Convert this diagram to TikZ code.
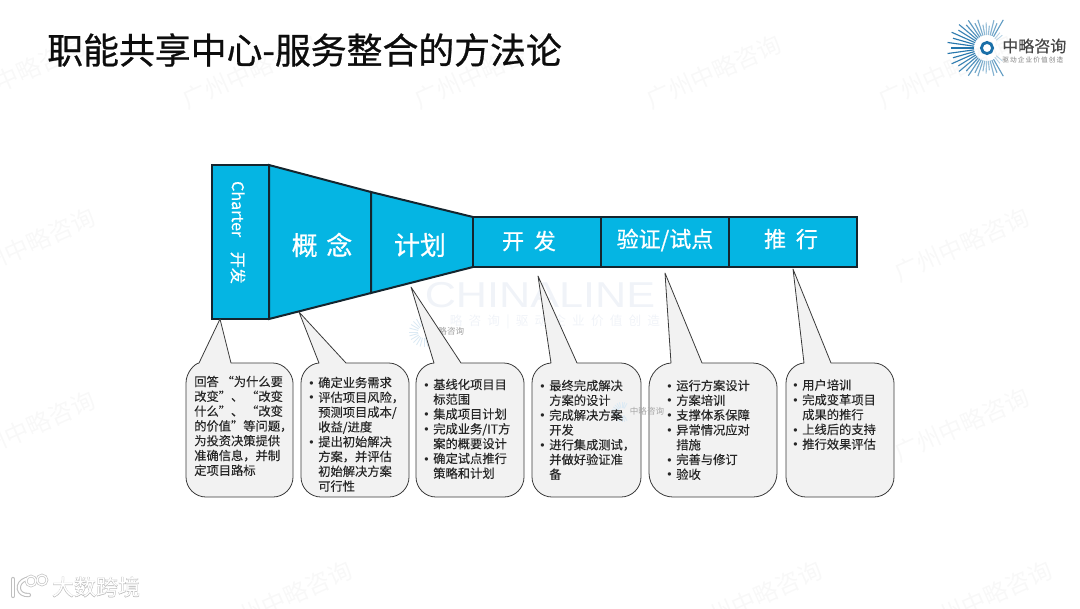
\documentclass[tikz,border=0pt]{standalone}
\usepackage{fontspec}
\setmainfont{Noto Sans CJK SC}
\newfontfamily\cjk{Noto Sans CJK SC}
\newfontfamily\cjkt[FakeBold=0.15]{Noto Sans CJK SC}
\newfontfamily\cjkb[FakeBold=0.7]{Noto Sans CJK SC}
\newfontfamily\cjks[FakeBold=0.3]{Noto Sans CJK SC}
\newfontfamily\cjkh[FakeBold=2.5]{Noto Sans CJK SC}
\newfontfamily\latinw{Liberation Sans}
\definecolor{stagefill}{HTML}{05B5E3}
\definecolor{stageline}{HTML}{14252E}
\definecolor{bubblefill}{HTML}{F2F2F2}
\definecolor{bubbleline}{HTML}{3A3A3A}
\definecolor{bodytext}{HTML}{262626}
\definecolor{wmark}{HTML}{F8F8F8}
\definecolor{wmarkb}{HTML}{F0F3F8}
\definecolor{logoblue}{HTML}{1A6FA8}
\definecolor{logopale}{HTML}{DCEAF4}
\newcommand{\bi}[1]{\makebox[0pt][r]{{\latinw •}\hspace{3.4pt}}#1}
\newcommand{\gp}{\hspace{4.6pt}}
\tikzset{
  stage/.style={fill=stagefill,draw=stageline,line width=1.5pt,line join=miter},
  bubble/.style={fill=bubblefill,draw=bubbleline,line width=0.6pt,line join=round},
  bubbletext/.style={anchor=north west,inner sep=0pt,align=left,text=bodytext,font=\cjkt\fontsize{9.2}{11.1}\selectfont},
  stagelabel/.style={text=white,inner sep=0pt},
  watermark/.style={text=wmark,inner sep=0pt,rotate=24,font=\cjk\fontsize{18}{20}\selectfont},
  smalllogo/.style={inner sep=0pt,font=\cjk\fontsize{6.4}{8}\selectfont},
}
\begin{document}
\begin{tikzpicture}[x=0.75pt,y=-0.75pt]
\useasboundingbox (0,0) rectangle (1080,608);
% watermarks
\foreach \wx/\wy [count=\i] in {18/74,250/72,482/72,714/72,946/72,
  28/245,962/245,28/428,962/425,285/598,755/598,985/598}{
  \node[watermark] (wm\i) at (\wx,\wy) {广州中略咨询};
}
\node[text=wmarkb,inner sep=0pt,xscale=1.2,font=\latinw\fontsize{27}{30}\selectfont] (cl) at (540,295) {CHINALINE};
\node[text=wmarkb,inner sep=0pt,font=\cjk\fontsize{9.5}{11}\selectfont] (cls) at (555,322) {略\gp 咨\gp 询\gp |\gp 驱\gp 动\gp 企\gp 业\gp 价\gp 值\gp 创\gp 造};
\foreach \a in {60,75,...,300}{
  \draw[color=logopale,line width=0.7pt] (424,332)++(\a:6) -- ++(\a:{9});
}
\node[smalllogo,text=black!38] (wl1) at (447,331) {中略咨询};
% title
\node[anchor=west,inner sep=0pt,text=black!95,font=\cjkb\fontsize{26.9}{30}\selectfont] (title) at (47,50) {职能共享中心-服务整合的方法论};
% logo
\foreach \a [count=\k] in {60,68,...,300}{
  \pgfmathsetmacro{\rl}{(mod(\k,2)==0 ? 21 : 25)+15*abs(cos(\a))}
  \pgfmathsetmacro{\mixv}{40+55*abs(cos(\a))}
  \draw[color=logoblue!\mixv!white,line width=0.85pt] (987,48)++(\a:13) -- ++(\a:{\rl-13});
}
\foreach \a [count=\k] in {50,-50,40,-40}{
  \draw[color=logoblue!30!white,line width=0.7pt] (987,48)++(\a:12) -- ++(\a:{8});
}
\draw[logoblue,line width=2.1pt,fill=white] (987,48) circle[radius=5.6];
\node[anchor=west,inner sep=0pt,text=black!72,font=\cjks\fontsize{12}{14}\selectfont] (lg1) at (1002,46) {中略咨询};
\node[anchor=west,inner sep=0pt,text=black!50,font=\cjk\fontsize{5}{6}\selectfont] (lg2) at (1002,60) {驱\,动\,企\,业\,价\,值\,创\,造};
% stages
\draw[stage] (212,165) rectangle (269,319);
\draw[stage] (269,165) -- (371,192) -- (371,293) -- (269,319) -- cycle;
\draw[stage] (371,192) -- (473,217) -- (473,267) -- (371,293) -- cycle;
\draw[stage] (473,217) rectangle (601,267);
\draw[stage] (601,217) rectangle (729,267);
\draw[stage] (729,217) rectangle (857,267);
\node[stagelabel,rotate=-90,font=\cjks\fontsize{12}{14}\selectfont] (charter) at (238,232.5) {Charter\hspace{11pt}开发};
\node[stagelabel,font=\cjkb\fontsize{19.5}{22}\selectfont] (gn) at (322,245) {概\,\,念};
\node[stagelabel,font=\cjkb\fontsize{19.5}{22}\selectfont] (jh) at (420,245) {计划};
\node[stagelabel,font=\cjkb\fontsize{16.5}{20}\selectfont] (kf) at (529,241) {开\ \ 发};
\node[stagelabel,font=\cjkb\fontsize{16.5}{20}\selectfont] (yz) at (665,240) {验证/试点};
\node[stagelabel,font=\cjkb\fontsize{16.5}{20}\selectfont] (tx) at (791,239) {推\ \ 行};
% bubbles: left, right, radius, tip x, tip y, base left, base right
\foreach \l/\r/\c/\tx/\ty/\bl/\br in {
  186/293/20/220/319/199/231,
  301/409/20/299/312/319/346,
  416/524/20/411/287/434/461,
  532/641/20/538/276/551/577,
  649/777/24/665/273/671/702,
  786/894/20/793/269/804/831}{
  \pgfmathsetmacro{\cs}{\c*0.45}
  \draw[bubble] (\br,363) -- ({\r-\c},363)
    .. controls ({\r-\cs},363) and (\r,{363+\c-\cs}) .. (\r,{363+\c})
    -- (\r,{497-\c})
    .. controls (\r,{497-\cs}) and ({\r-\cs},497) .. ({\r-\c},497)
    -- ({\l+\c},497)
    .. controls ({\l+\cs},497) and (\l,{497-\cs}) .. (\l,{497-\c})
    -- (\l,{363+\c})
    .. controls (\l,{363+\cs}) and ({\l+\cs},363.5) .. (\bl,363)
    -- (\tx,\ty) -- cycle;
}
% small mark lying over the bubbles
\foreach \a in {60,75,...,300}{
  \draw[color=logopale,line width=0.7pt] (622,412)++(\a:4) -- ++(\a:{6});
}
\node[smalllogo,text=black!35] (wl2) at (647,411) {中略咨询};
\node[bubbletext] (b1) at (194,375.5) {回答 “为什么要\\改变”、 “改变\\什么”、 “改变\\的价值”等问题，\\为投资决策提供\\准确信息，并制\\定项目路标};
\node[bubbletext] (b2) at (318,376.5) {\bi{确定业务需求}\\\bi{评估项目风险，}\\预测项目成本/\\收益/进度\\\bi{提出初始解决}\\方案，并评估\\初始解决方案\\可行性};
\node[bubbletext] (b3) at (433,378.5) {\bi{基线化项目目}\\标范围\\\bi{集成项目计划}\\\bi{完成业务/IT方}\\案的概要设计\\\bi{确定试点推行}\\策略和计划};
\node[bubbletext] (b4) at (549,379.5) {\bi{最终完成解决}\\方案的设计\\\bi{完成解决方案}\\开发\\\bi{进行集成测试，}\\并做好验证准\\备};
\node[bubbletext] (b5) at (676,379.5) {\bi{运行方案设计}\\\bi{方案培训}\\\bi{支撑体系保障}\\\bi{异常情况应对}\\措施\\\bi{完善与修订}\\\bi{验收}};
\node[bubbletext] (b6) at (802,379) {\bi{用户培训}\\\bi{完成变革项目}\\成果的推行\\\bi{上线后的支持}\\\bi{推行效果评估}};
% bottom-left mark
\node[inner sep=0pt,text=black!28,font=\cjkh\fontsize{16.5}{20}\selectfont] (dsh) at (96,587) {大数跨境};
\node[inner sep=0pt,text=white,font=\cjk\fontsize{16.5}{20}\selectfont] (ds) at (96,587) {大数跨境};
\foreach \cc/\ww in {black!25/3.2,white/1.6}{
  \draw[color=\cc,line width=\ww pt,line cap=round] (13,579) -- (13,596);
  \draw[color=\cc,line width=\ww pt,line cap=round] (26,579) .. controls (15,583) and (17,596) .. (29,595);
  \draw[color=\cc,line width=\ww*0.6 pt] (31,581) circle[radius=5];
  \draw[color=\cc,line width=\ww*0.6 pt] (42,580) circle[radius=5];
}
\end{tikzpicture}
\end{document}
